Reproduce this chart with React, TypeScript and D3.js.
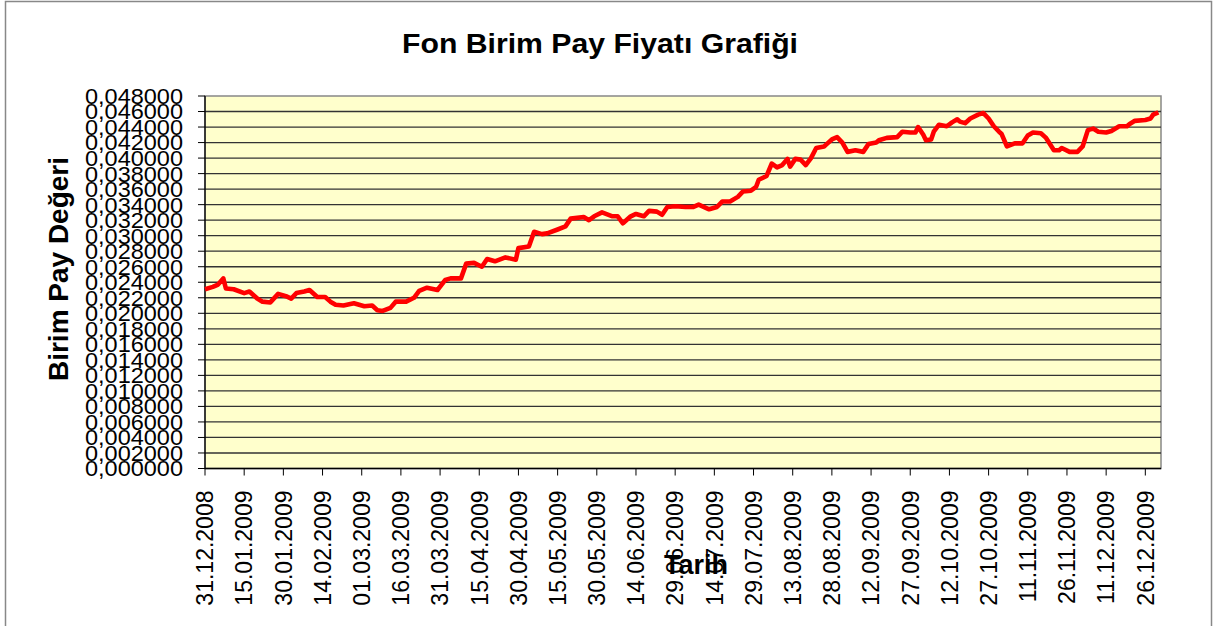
import React from "react";
import * as d3 from "d3";

const title = "Fon Birim Pay Fiyatı Grafiği";
const yTitle = "Birim Pay Değeri";
const xTitle = "Tarih";

// day offsets from 31.12.2008
const dayOffsets = [
  0, 3, 5, 7, 8, 11, 15, 17, 20, 22, 25, 28, 31, 33, 35, 38, 40, 43, 46, 48,
  50, 53, 57, 61, 64, 66, 68, 71, 73, 77, 80, 82, 85, 89, 92, 94, 98, 100, 103, 106,
  108, 111, 115, 119, 120, 124, 126, 129, 131, 135, 138, 140, 145, 147, 149, 152, 156, 158, 160, 163,
  165, 168, 170, 173, 175, 177, 180, 184, 187, 189, 193, 196, 198, 201, 204, 206, 209, 211, 212, 215,
  217, 219, 221, 223, 224, 226, 228, 230, 232, 234, 237, 238, 240, 242, 244, 246, 249, 252, 254, 257,
  258, 261, 265, 267, 270, 272, 273, 275, 276, 278, 279, 281, 284, 286, 288, 289, 291, 293, 296, 298,
  300, 302, 304, 305, 307, 310, 313, 315, 317, 320, 322, 325, 327, 328, 331, 334, 336, 338, 340, 342,
  345, 347, 350, 353, 354, 356, 360, 362, 363, 365,
];

const unitValues = [
  0.0231, 0.0234, 0.0237, 0.0245, 0.0232, 0.0231, 0.0226, 0.0228, 0.0219, 0.0215, 0.0214, 0.0225, 0.0222, 0.0219, 0.0226, 0.0228, 0.0230, 0.0221, 0.0221, 0.0215,
  0.0211, 0.0210, 0.0213, 0.0209, 0.0210, 0.0204, 0.0203, 0.0207, 0.0215, 0.0215, 0.0220, 0.0229, 0.0233, 0.0230, 0.0243, 0.0245, 0.0245, 0.0264, 0.0265, 0.0260,
  0.0270, 0.0267, 0.0272, 0.0269, 0.0284, 0.0286, 0.0305, 0.0302, 0.0303, 0.0308, 0.0312, 0.0322, 0.0324, 0.0320, 0.0325, 0.0330, 0.0325, 0.0325, 0.0316, 0.0325,
  0.0328, 0.0325, 0.0332, 0.0331, 0.0327, 0.0337, 0.0338, 0.0337, 0.0337, 0.0340, 0.0334, 0.0337, 0.0344, 0.0344, 0.0350, 0.0357, 0.0358, 0.0363, 0.0372, 0.0377,
  0.0393, 0.0388, 0.0391, 0.0399, 0.0389, 0.0399, 0.0398, 0.0391, 0.0400, 0.0413, 0.0415, 0.0418, 0.0424, 0.0427, 0.0420, 0.0408, 0.0410, 0.0408, 0.0418, 0.0420,
  0.0423, 0.0426, 0.0427, 0.0434, 0.0433, 0.0433, 0.0440, 0.0430, 0.0423, 0.0424, 0.0434, 0.0443, 0.0441, 0.0446, 0.0450, 0.0447, 0.0445, 0.0451, 0.0456, 0.0458,
  0.0451, 0.0441, 0.0434, 0.0431, 0.0415, 0.0419, 0.0419, 0.0429, 0.0433, 0.0432, 0.0426, 0.0410, 0.0410, 0.0413, 0.0408, 0.0408, 0.0415, 0.0436, 0.0438, 0.0434,
  0.0433, 0.0435, 0.0441, 0.0441, 0.0444, 0.0448, 0.0449, 0.0451, 0.0456, 0.0459,
];

const yTickValues = [
  0, 0.002, 0.004, 0.006, 0.008, 0.01, 0.012, 0.014, 0.016, 0.018, 0.02, 0.022, 0.024,
  0.026, 0.028, 0.03, 0.032, 0.034, 0.036, 0.038, 0.04, 0.042, 0.044, 0.046, 0.048,
];

// x tick offsets in days (every 15 days)
const xTickOffsets = [
  0, 15, 30, 45, 60, 75, 90, 105, 120, 135, 150, 165, 180, 195, 210, 225, 240, 255, 270, 285,
  300, 315, 330, 345, 360,
];

const W = 1215;
const H = 626;
const plot = { left: 205, right: 1161, top: 96, bottom: 468.5 };

const baseDate = new Date(Date.UTC(2008, 11, 31));
const endDate = new Date(Date.UTC(2010, 0, 1));

export default function App() {
  const x = d3.scaleUtc().domain([baseDate, endDate]).range([plot.left, plot.right]);
  const y = d3.scaleLinear().domain([0, 0.048]).range([plot.bottom, plot.top]);

  const data = dayOffsets.map((d, i) => ({ date: d3.utcDay.offset(baseDate, d), v: unitValues[i] }));
  const line = d3
    .line<{ date: Date; v: number }>()
    .x((d) => x(d.date))
    .y((d) => y(d.v));

  const fmtY = (v: number) => d3.format(".6f")(v).replace(".", ",");
  const fmtX = d3.utcFormat("%d.%m.%Y");
  const font = "'Liberation Sans', Arial, sans-serif";

  return (
    <div style={{ position: "fixed", left: 0, top: 0 }}>
      <svg width={W} height={H} style={{ display: "block" }}>
        <rect x={0} y={0} width={W} height={H} fill="#fff" />
        <rect x={5.5} y={1.5} width={1206} height={640} fill="#fff" stroke="#888" strokeWidth={1.5} />
        <text
          x={600}
          y={53}
          textAnchor="middle"
          fontFamily={font}
          fontWeight="bold"
          fontSize={28}
          textLength={396}
          lengthAdjust="spacingAndGlyphs"
        >
          {title}
        </text>
        <rect
          x={plot.left}
          y={plot.top}
          width={plot.right - plot.left}
          height={plot.bottom - plot.top}
          fill="#FFFFCC"
          stroke="#888"
          strokeWidth={1.5}
        />
        {yTickValues.map((t) => (
          <g key={t}>
            {t > 0 && t < 0.048 && (
              <line x1={plot.left} x2={plot.right} y1={y(t)} y2={y(t)} stroke="#333" strokeWidth={1.3} />
            )}
            <line x1={plot.left - 7} x2={plot.left} y1={y(t)} y2={y(t)} stroke="#000" strokeWidth={1} />
            <text
              x={183}
              y={y(t)}
              dy="0.36em"
              textAnchor="end"
              fontFamily={font}
              fontSize={22}
              textLength={98}
              lengthAdjust="spacingAndGlyphs"
            >
              {fmtY(t)}
            </text>
          </g>
        ))}
        <line x1={plot.left} x2={plot.left} y1={plot.top} y2={plot.bottom} stroke="#000" strokeWidth={1.3} />
        <line x1={plot.left} x2={plot.right} y1={plot.bottom} y2={plot.bottom} stroke="#000" strokeWidth={1.3} />
        {xTickOffsets.map((o) => {
          const d = d3.utcDay.offset(baseDate, o);
          const px = x(d);
          return (
            <g key={o}>
              <line x1={px} x2={px} y1={plot.bottom} y2={plot.bottom + 7} stroke="#000" strokeWidth={1} />
              <text
                transform={`translate(${px},${plot.bottom + 22}) rotate(-90)`}
                dy="0.36em"
                textAnchor="end"
                fontFamily={font}
                fontSize={23}
              >
                {fmtX(d)}
              </text>
            </g>
          );
        })}
        <path d={line(data) || ""} fill="none" stroke="#FF0000" strokeWidth={4.6} strokeLinejoin="round" />
        <text
          transform={`translate(68,269) rotate(-90)`}
          textAnchor="middle"
          fontFamily={font}
          fontWeight="bold"
          fontSize={28}
        >
          {yTitle}
        </text>
        <text x={696} y={574} textAnchor="middle" fontFamily={font} fontWeight="bold" fontSize={27}>
          {xTitle}
        </text>
      </svg>
    </div>
  );
}
